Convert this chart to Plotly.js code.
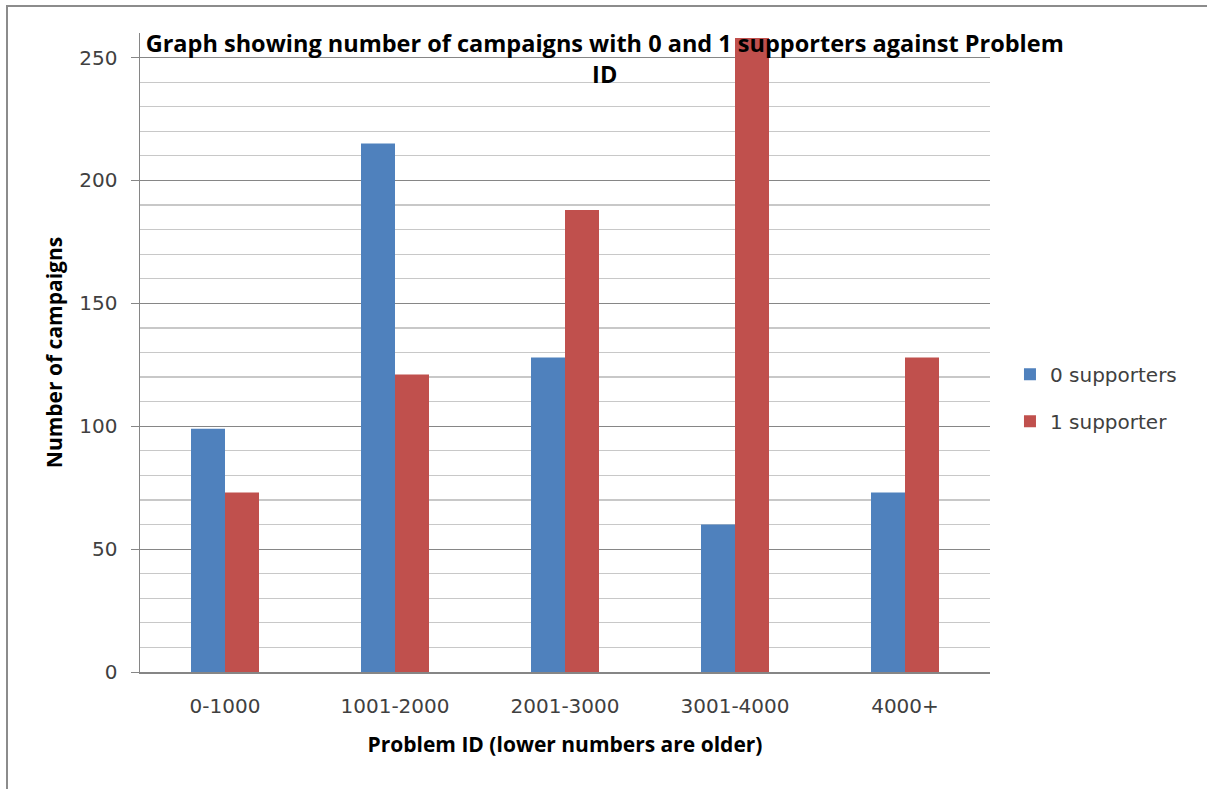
<!DOCTYPE html>
<html>
<head>
<meta charset="utf-8">
<script src="https://cdn.plot.ly/plotly-3.0.1.min.js"></script>
<style>
html,body{margin:0;padding:0;background:#fff;}
#frame{position:absolute;left:6px;top:5px;width:1210px;height:800px;border-left:2px solid #8c8c8c;border-top:2px solid #8c8c8c;}
#chart{position:absolute;left:0;top:0;width:1207px;height:789px;}
</style>
</head>
<body>
<div id="frame"></div>
<div id="chart"></div>
<script>
var categories = ["0-1000", "1001-2000", "2001-3000", "3001-4000", "4000+"];
var zeroSupporters = [99, 215, 128, 60, 73];
var oneSupporter = [73, 121, 188, 258, 128];
var seriesNames = ["0 supporters", "1 supporter"];

var traces = [
  {type: "bar", name: seriesNames[0], x: categories, y: zeroSupporters,
   marker: {color: "#4F81BD"}, legendgroup: "a"},
  {type: "bar", name: seriesNames[1], x: categories, y: oneSupporter,
   marker: {color: "#C0504D"}, legendgroup: "b"}
];

var layout = {
  width: 1207, height: 789,
  paper_bgcolor: "rgba(0,0,0,0)", plot_bgcolor: "#ffffff",
  margin: {l: 140, r: 217, t: 33, b: 117},
  barmode: "group", bargap: 0.6, bargroupgap: 0,
  title: {
    text: "<b>Graph showing number of campaigns with 0 and 1 supporters against Problem<br>ID</b>",
    font: {family: "Open Sans", size: 23.5, color: "#000000"},
    x: 0.501, xref: "container", xanchor: "center",
    y: 1 - 52/789, yref: "container", yanchor: "top"
  },
  xaxis: {
    type: "category",
    showline: true, linecolor: "#868686", linewidth: 1.5,
    ticks: "", tickfont: {family: "DejaVu Sans", size: 20, color: "#404040"}, ticklabelstandoff: 15,
    showgrid: false,
    title: {text: "<b>Problem ID (lower numbers are older)</b>", font: {family: "Open Sans", size: 21, color: "#000"}, standoff: 21}
  },
  yaxis: {
    range: [0, 260], dtick: 50, tick0: 0,
    showline: true, linecolor: "#868686", linewidth: 1.5,
    ticks: "outside", ticklen: 8, tickcolor: "#868686",
    tickfont: {family: "DejaVu Sans", size: 20, color: "#404040"}, ticklabelstandoff: 9,
    showgrid: true, gridcolor: "#868686", gridwidth: 1.2,
    zeroline: false,
    minor: {dtick: 10, showgrid: true, gridcolor: "#c8c8c8", gridwidth: 1.2, ticks: ""},
    title: {text: "<b>Number of campaigns</b>", font: {family: "Open Sans", size: 21, color: "#000"}, standoff: 11}
  },
  legend: {
    x: 1.0235, xanchor: "left", y: 0.429, yanchor: "middle",
    font: {family: "DejaVu Sans", size: 20, color: "#404040"},
    traceorder: "grouped", tracegroupgap: 18,
    bgcolor: "rgba(0,0,0,0)", itemwidth: 30
  },
  showlegend: true
};

Plotly.newPlot("chart", traces, layout, {displayModeBar: false, staticPlot: true});
</script>
</body>
</html>
